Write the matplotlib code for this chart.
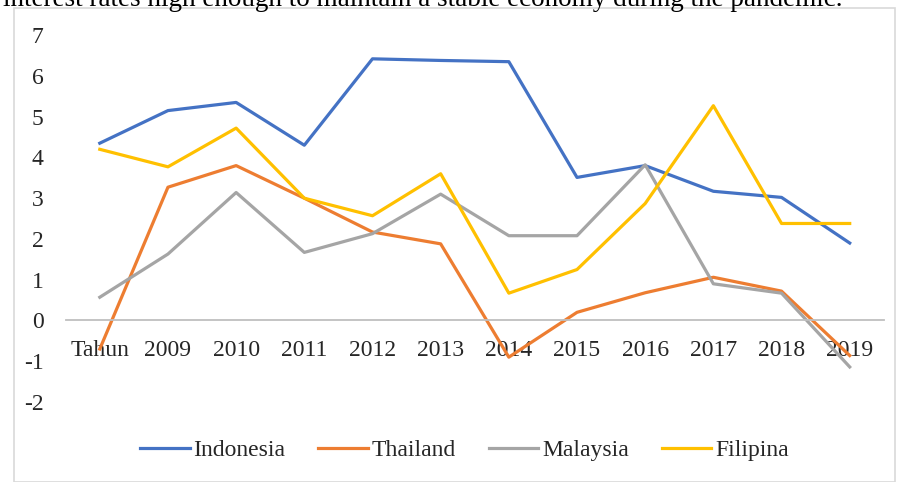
import matplotlib.pyplot as plt
from matplotlib.patches import Rectangle

# Data
categories = ["Tahun", "2009", "2010", "2011", "2012", "2013", "2014",
              "2015", "2016", "2017", "2018", "2019"]
indonesia = [4.35, 5.15, 5.35, 4.3, 6.42, 6.38, 6.35, 3.51, 3.8, 3.17, 3.02, 1.9]
thailand = [-0.7, 3.27, 3.8, 3.0, 2.17, 1.88, -0.9, 0.2, 0.68, 1.06, 0.72, -0.86]
malaysia = [0.57, 1.63, 3.14, 1.67, 2.13, 3.1, 2.08, 2.08, 3.82, 0.9, 0.67, -1.14]
filipina = [4.2, 3.77, 4.72, 3.0, 2.57, 3.6, 0.67, 1.25, 2.87, 5.27, 2.38, 2.38]
yticks = [-2, -1, 0, 1, 2, 3, 4, 5, 6, 7]

plt.rcParams['font.family'] = ['Liberation Serif', 'DejaVu Serif']

fig = plt.figure(figsize=(9, 4.82), dpi=100)
ax = fig.add_axes([0.073, 0.166, 0.909, 0.761])

x = list(range(len(categories)))
ax.plot(x, indonesia, color="#4472C4", lw=2.3, label="Indonesia")
ax.plot(x, thailand, color="#ED7D31", lw=2.3, label="Thailand")
ax.plot(x, malaysia, color="#A5A5A5", lw=2.3, label="Malaysia")
ax.plot(x, filipina, color="#FFC000", lw=2.3, label="Filipina")

ax.set_xlim(-0.5, 11.5)
ax.set_ylim(-2, 7)
ax.set_yticks(yticks)
ax.set_yticklabels([str(v) for v in yticks])
ax.set_xticks(x)
ax.set_xticklabels(categories)

for s in ["top", "right", "left"]:
    ax.spines[s].set_visible(False)
ax.spines["bottom"].set_position(("data", 0))
ax.spines["bottom"].set_color("#BFBFBF")
ax.spines["bottom"].set_linewidth(1.3)
ax.tick_params(axis="x", length=0, pad=14, labelsize=17, colors="#262626")
ax.tick_params(axis="y", length=0, pad=16, labelsize=17, colors="#262626")

fig.legend(loc="center", bbox_to_anchor=(0.516, 0.066), ncol=4, frameon=False,
           fontsize=17, handlelength=2.1, handletextpad=0.15, columnspacing=1.4,
           labelcolor="#262626")

# outer frame of the chart
fig.patches.append(Rectangle((14 / 900, 0), 881 / 900, 474 / 482,
                             transform=fig.transFigure, fill=False,
                             edgecolor="#D9D9D9", lw=1.2))

fig.text(0.003, 0.9876,
         "interest rates high enough to maintain a stable economy during the pandemic.",
         fontsize=19.5, va="baseline", ha="left", color="black")

fig.savefig("out.png", dpi=100)
